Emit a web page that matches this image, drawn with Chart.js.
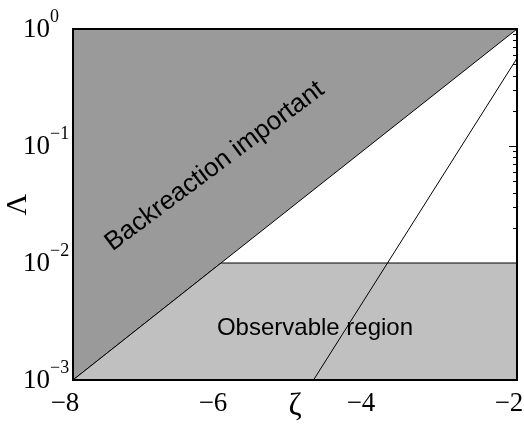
<!DOCTYPE html>
<html><head><meta charset="utf-8">
<script src="https://cdn.jsdelivr.net/npm/chart.js@4/dist/chart.umd.min.js"></script>
<style>html,body{margin:0;padding:0;background:#fff}</style>
</head><body>
<canvas id="c" width="524" height="426"></canvas>
<script>
// Data
const xTicks = [-8, -6, -4, -2];
const yTickExponents = [0, -1, -2, -3];
const diagonalX = [-8, -2];
const diagonalY = [1e-3, 1e0];
const observableX = [-8, -6, -2];
const observableY = [1e-3, 1e-2, 1e-2];
const line2X = [-4.75, -2];
const line2Y = [1e-3, 0.5623];
const labelBack = "Backreaction important";
const labelObs = "Observable region";

const pts = (xs, ys) => xs.map((x, i) => ({x, y: ys[i]}));
const DARK = '#9a9a9a', LIGHT = '#c0c0c0';

const decor = {
  id: 'decor',
  beforeDatasetsDraw(chart) {
    const {ctx, chartArea: a, scales: {x, y}} = chart;
    ctx.save();
    ctx.strokeStyle = '#000'; ctx.lineWidth = 1;
    ctx.beginPath();
    for (let e = -3; e <= 0; e++) {
      for (let m = 1; m <= 9; m++) {
        const v = m * Math.pow(10, e);
        if (v > 1) break;
        const py = Math.round(y.getPixelForValue(v)) + 0.5;
        const len = m === 1 ? 8 : 4;
        ctx.moveTo(a.right, py); ctx.lineTo(a.right - len, py);
        ctx.moveTo(a.left, py); ctx.lineTo(a.left + len, py);
      }
    }
    xTicks.forEach(t => {
      const px = Math.round(x.getPixelForValue(t)) + 0.5;
      ctx.moveTo(px, a.top); ctx.lineTo(px, a.top + 8);
      ctx.moveTo(px, a.bottom); ctx.lineTo(px, a.bottom - 8);
    });
    ctx.stroke();
    ctx.restore();
  },
  afterDraw(chart) {
    const {ctx, chartArea: a, scales: {x, y}} = chart;
    ctx.save();
    ctx.strokeStyle = '#000'; ctx.lineWidth = 2;
    ctx.strokeRect(a.left, a.top, a.right - a.left, a.bottom - a.top);
    ctx.fillStyle = '#000';
    yTickExponents.forEach(e => {
      const py = y.getPixelForValue(Math.pow(10, e));
      ctx.font = '27px "Liberation Serif", "Times New Roman", serif';
      ctx.textAlign = 'right'; ctx.textBaseline = 'middle';
      ctx.fillText('10', 50, py + 1);
      ctx.font = '18px "Liberation Serif", "Times New Roman", serif';
      ctx.textAlign = 'left'; ctx.textBaseline = 'alphabetic';
      ctx.fillText(e === 0 ? '0' : '\u2212' + Math.abs(e), 50, py - 7);
    });
    ctx.font = '26px "Liberation Sans", Arial, sans-serif';
    ctx.textAlign = 'center'; ctx.textBaseline = 'alphabetic';
    ctx.save();
    ctx.translate(219, 172);
    ctx.rotate(-36.7 * Math.PI / 180);
    ctx.fillText(labelBack, 0, 0);
    ctx.restore();
    ctx.font = '24px "Liberation Sans", Arial, sans-serif';
    ctx.textBaseline = 'middle';
    ctx.fillText(labelObs, 315, 328);
    ctx.restore();
  }
};

new Chart(document.getElementById('c'), {
  type: 'scatter',
  data: {
    datasets: [
      {data: pts(line2X, line2Y), showLine: true, borderColor: '#000', borderWidth: 1, pointRadius: 0, fill: false, order: 1},
      {data: pts(observableX, observableY), showLine: true, borderColor: '#000', borderWidth: 1, pointRadius: 0, fill: 'start', backgroundColor: LIGHT, order: 2},
      {data: pts(diagonalX, diagonalY), showLine: true, borderColor: '#000', borderWidth: 1, pointRadius: 0, fill: 'end', backgroundColor: DARK, order: 3}
    ]
  },
  options: {
    responsive: false, animation: false, devicePixelRatio: 1,
    layout: {autoPadding: false, padding: {top: 29, right: 7, left: 0, bottom: 0}},
    plugins: {legend: {display: false}, tooltip: {enabled: false}},
    scales: {
      x: {
        type: 'linear', min: -8, max: -2,
        border: {display: false}, grid: {display: false},
        afterBuildTicks(s) { s.ticks = xTicks.map(v => ({value: v})); },
        afterFit(s) { s.height = 46; s.paddingLeft = 0; s.paddingRight = 0; },
        ticks: {
          color: '#000', padding: 0, labelOffset: -8, maxRotation: 0,
          font: {family: '"Liberation Serif", "Times New Roman", serif', size: 27},
          callback: v => (v < 0 ? '\u2212' : '') + Math.abs(v)
        },
        title: {display: true, text: 'ζ', color: '#000', padding: {top: -10, bottom: 0},
          font: {family: '"Liberation Serif", "Times New Roman", serif', size: 32}}
      },
      y: {
        type: 'logarithmic', min: 1e-3, max: 1,
        border: {display: false}, grid: {display: false},
        afterFit(s) { s.width = 73; },
        ticks: {display: false},
        title: {display: true, text: 'Λ', color: '#000', padding: {top: 0, bottom: 0},
          font: {family: '"Liberation Serif", "Times New Roman", serif', size: 30}}
      }
    }
  },
  plugins: [decor]
});
</script>
</body></html>
